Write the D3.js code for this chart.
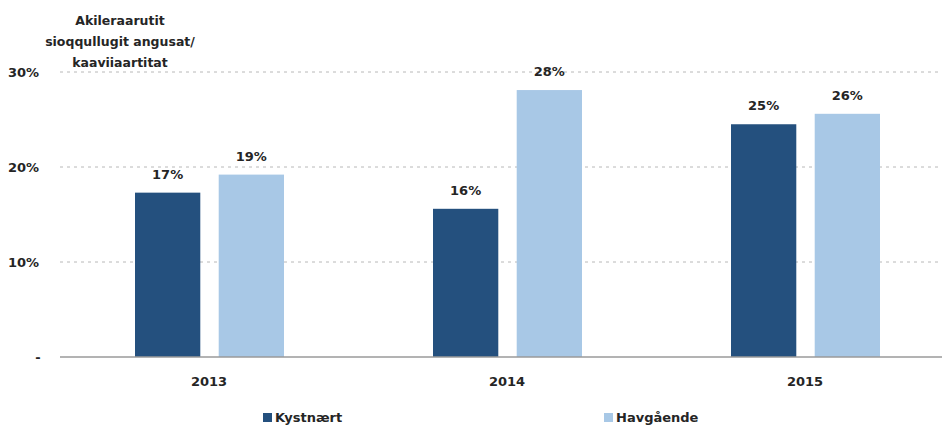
<!DOCTYPE html>
<html><head><meta charset="utf-8">
<script src="https://cdn.jsdelivr.net/npm/d3@7"></script>
<style>
body{margin:0;background:#fff;}
text{font-family:"DejaVu Sans",sans-serif;font-weight:bold;fill:#252525;}
</style></head>
<body><svg id="c" width="942" height="430"></svg>
<script>
const years = ["2013","2014","2015"];
const seriesNames = ["Kystnært","Havgående"];
const kystnaert = [17.3, 15.6, 24.5];
const havgaaende = [19.2, 28.1, 25.6];
const yTicks = [0, 10, 20, 30];
const yTickLabels = ["-", "10%", "20%", "30%"];
const titleLines = ["Akileraarutit", "sioqqullugit angusat/", "kaaviiaartitat"];
const colors = ["#24507e", "#a8c8e6"];

const svg = d3.select("#c");
const y = d3.scaleLinear().domain([0, 30]).range([357, 72]);
const x = d3.scaleBand().domain(years).range([60, 954]).paddingInner(0).paddingOuter(0);
const xi = d3.scaleBand().domain(seriesNames).range([75, 224]).paddingInner(0.22);

// gridlines
svg.selectAll(".grid").data(yTicks.filter(d => d > 0)).enter().append("line")
  .attr("x1", 60).attr("x2", 942)
  .attr("y1", d => y(d)).attr("y2", d => y(d))
  .attr("stroke", "#b8b8b8").attr("stroke-width", 1).attr("stroke-dasharray", "3,4");

// y labels
svg.selectAll(".yl").data(yTicks).enter().append("text")
  .attr("x", d => d === 0 ? 38 : 8).attr("y", d => y(d) + 5)
  .attr("text-anchor", d => d === 0 ? "middle" : "start")
  .attr("font-size", 13)
  .text((d, i) => yTickLabels[i]);

// bars
const data = years.map((yr, i) => ({year: yr, vals: [kystnaert[i], havgaaende[i]]}));
const g = svg.selectAll(".grp").data(data).enter().append("g")
  .attr("transform", d => `translate(${x(d.year)},0)`);
g.selectAll("rect").data(d => d.vals.map((v, j) => ({v, s: seriesNames[j], j}))).enter().append("rect")
  .attr("x", d => xi(d.s)).attr("width", xi.bandwidth())
  .attr("y", d => y(d.v)).attr("height", d => y(0) - y(d.v))
  .attr("fill", d => colors[d.j]);
g.selectAll(".vl").data(d => d.vals.map((v, j) => ({v, s: seriesNames[j], j}))).enter().append("text")
  .attr("x", d => xi(d.s) + xi.bandwidth() / 2).attr("y", d => y(d.v) - 14)
  .attr("text-anchor", "middle").attr("font-size", 13)
  .text(d => Math.round(d.v) + "%");

// baseline
svg.append("line").attr("x1", 60).attr("x2", 942).attr("y1", y(0)).attr("y2", y(0))
  .attr("stroke", "#9a9a9a").attr("stroke-width", 1.5);

// x labels
svg.selectAll(".xl").data(years).enter().append("text")
  .attr("x", d => x(d) + x.bandwidth() / 2).attr("y", 386)
  .attr("text-anchor", "middle").attr("font-size", 13).text(d => d);

// title
svg.selectAll(".tt").data(titleLines).enter().append("text")
  .attr("x", 120).attr("y", (d, i) => 25 + i * 21)
  .attr("text-anchor", "middle").attr("font-size", 12.5).text(d => d);

// legend
const legX = [263, 604];
const lg = svg.selectAll(".lg").data(seriesNames).enter().append("g")
  .attr("transform", (d, i) => `translate(${legX[i]},413)`);
lg.append("rect").attr("width", 9).attr("height", 9).attr("fill", (d, i) => colors[i]);
lg.append("text").attr("x", 12).attr("y", 9).attr("font-size", 13).text(d => d);
</script></body></html>
